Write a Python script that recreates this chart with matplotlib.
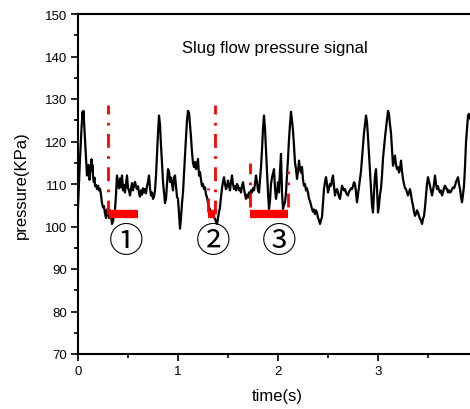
import matplotlib
matplotlib.use("Agg")
import matplotlib.pyplot as plt
import numpy as np
from matplotlib.ticker import MultipleLocator

# pressure trace (time in s, pressure in KPa)
# first part is irregularly spaced, the rest is on a 0.01 s grid
time_head = [
    0.000, 0.008, 0.020, 0.035, 0.045, 0.050, 0.055, 0.062, 0.070, 0.078,
    0.085, 0.090, 0.095, 0.100, 0.105, 0.110, 0.115, 0.120, 0.128, 0.135,
    0.140, 0.145, 0.150, 0.158, 0.165, 0.170, 0.180, 0.190, 0.200, 0.210,
    0.220, 0.230, 0.240, 0.250, 0.260, 0.270, 0.280, 0.290, 0.300, 0.310,
]
time_tail = np.arange(32, 394) / 100.0
time_s = np.concatenate([time_head, time_tail])

pressure = [
    104.5, 109.0, 116.0, 123.0, 127.0, 125.5, 127.2, 124.0, 120.0, 117.0,
    114.0, 112.0, 113.5, 112.5, 114.5, 112.0, 111.0, 113.0, 114.0, 115.8,
    113.0, 114.5, 112.0, 110.5, 111.5, 109.5, 109.8, 108.8, 109.6, 108.5,
    108.9, 107.5, 105.5, 104.5, 104.8, 103.0, 102.0, 104.0, 103.5, 102.0,
    # 0.32 s onwards
    103.8, 102.5, 100.6, 101.2, 103.0, 104.0, 107.5, 112.0, 110.0, 109.0,
    111.3, 109.2, 112.0, 108.5, 109.8, 108.0, 110.0, 112.0, 109.0, 108.5,
    107.3, 109.0, 110.2, 108.5, 109.6, 110.5, 109.4, 108.8, 109.5, 107.8,
    107.0, 108.5, 107.5, 109.0, 108.0, 108.8, 107.8, 109.5, 110.5, 112.0,
    109.0, 107.3, 108.0, 106.5, 107.0, 108.5, 112.0, 117.0, 122.0, 126.1,
    124.0, 119.0, 115.0, 110.5, 108.0, 105.5, 106.5, 110.0, 113.5, 113.0,
    110.5, 111.5, 110.0, 108.5, 111.5, 112.0, 109.5, 107.0, 106.5, 103.0,
    99.5, 102.0, 105.5, 108.0, 112.5, 117.0, 121.0, 125.0, 127.2, 126.8,
    124.0, 121.0, 117.5, 115.0, 114.0, 115.2, 113.5, 114.5, 115.9, 112.0,
    112.8, 111.0, 109.5, 110.0, 108.8, 109.2, 107.5, 106.9, 105.5, 104.5,
    104.0, 103.2, 102.9, 102.5, 102.2, 101.8, 101.0, 100.6, 102.0, 103.4,
    104.5, 107.0, 109.0, 110.5, 111.6, 110.0, 108.8, 109.5, 110.8, 109.5,
    108.5, 110.5, 112.0, 110.0, 108.8, 109.5, 108.5, 110.0, 109.6, 108.5,
    109.0, 108.0, 109.5, 110.4, 109.0, 107.5, 106.5, 107.5, 106.8, 108.0,
    107.3, 108.5, 108.0, 109.0, 108.5, 110.0, 112.0, 110.5, 108.5, 108.0,
    111.0, 114.0, 118.0, 123.0, 126.1, 123.0, 118.0, 113.0, 108.0, 104.1,
    106.0, 110.0, 111.5, 112.5, 113.5, 109.0, 106.5, 108.0, 110.4, 108.0,
    113.0, 117.1, 108.0, 104.1, 105.0, 105.7, 108.0, 112.0, 116.0, 120.5,
    124.0, 127.0, 125.0, 122.5, 119.0, 115.0, 113.5, 111.2, 113.0, 115.5,
    113.5, 112.7, 114.0, 111.0, 109.6, 110.0, 108.5, 109.0, 108.0, 106.5,
    106.0, 105.0, 104.1, 103.5, 104.0, 102.9, 103.8, 103.3, 102.0, 101.5,
    100.6, 101.5, 102.2, 105.5, 108.8, 110.5, 111.6, 110.0, 108.0, 109.0,
    110.0, 109.6, 111.0, 112.0, 109.5, 107.3, 108.5, 108.8, 108.0, 107.0,
    106.5, 108.0, 109.6, 109.0, 108.5, 108.8, 108.0, 107.5, 107.3, 108.2,
    108.5, 109.0, 108.8, 109.5, 110.4, 110.0, 108.0, 105.7, 107.5, 109.5,
    111.2, 113.0, 116.0, 119.0, 122.0, 124.0, 126.1, 124.5, 121.0, 117.0,
    113.0, 109.0, 105.0, 103.3, 108.0, 112.0, 113.5, 109.0, 103.3, 105.0,
    107.5, 109.0, 112.0, 116.0, 118.5, 121.0, 123.0, 125.0, 127.2, 126.5,
    124.0, 122.0, 118.0, 114.3, 115.5, 116.7, 114.5, 113.5, 114.0, 112.7,
    113.5, 115.5, 113.0, 111.2, 110.0, 109.0, 108.8, 108.0, 107.3, 108.0,
    108.8, 107.5, 106.0, 104.9, 103.5, 102.5, 103.0, 103.8, 103.3, 102.5,
    101.8, 101.5, 100.6, 101.8, 102.5, 104.5, 107.3, 110.0, 111.6, 110.5,
    109.6, 108.5, 107.3, 108.5, 110.0, 112.0, 110.0, 108.8, 109.5, 108.5,
    108.0, 108.5, 107.3, 108.0, 109.0, 109.6, 109.0, 108.8, 108.0, 108.5,
    108.0, 108.2, 108.8, 109.2, 109.0, 109.6, 110.5, 111.0, 111.6, 110.0,
    108.8, 107.0, 105.7, 107.5, 109.6, 114.0, 119.8, 123.0, 126.1, 126.5,
    125.5, 125.0,
]

# red markers: dash-dot lines (x, bottom, top) and bars (start, end, level)
vline_x = [0.30, 1.37, 1.30, 1.72, 2.10]
vline_lo = [102.9, 102.9, 103.5, 104.5, 104.5]
vline_hi = [128.5, 128.5, 109.0, 115.0, 113.0]
bar_start = [0.31, 1.30, 1.72]
bar_end = [0.60, 1.37, 2.10]
bar_level = [102.9, 102.9, 102.9]
label_x = [0.48, 1.35, 2.01]
label_text = ["\u2460", "\u2461", "\u2462"]

plt.rcParams["font.family"] = ["Liberation Sans", "DejaVu Sans"]

fig = plt.figure(figsize=(4.7, 4.1), dpi=100)
ax = fig.add_axes([78 / 470, 55 / 410, 398 / 470, 340 / 410])

ax.plot(time_s, pressure, color="black", lw=1.6, zorder=2)

for x, lo, hi in zip(vline_x, vline_lo, vline_hi):
    ax.plot([x, x], [lo, hi], color="red", lw=2, linestyle=(0, (5, 3, 1, 3)), zorder=3)
for s, e, lv in zip(bar_start, bar_end, bar_level):
    ax.plot([s, e], [lv, lv], color="red", lw=6, solid_capstyle="butt", zorder=4)
for x, txt in zip(label_x, label_text):
    ax.text(x, 96.4, txt, ha="center", va="center", fontsize=25,
            family=["Noto Sans CJK SC", "DejaVu Sans"])

ax.text(1.97, 142.2, "Slug flow pressure signal", ha="center", va="center", fontsize=12)

ax.set_xlim(0, 3.98)
ax.set_ylim(70, 150)
ax.xaxis.set_major_locator(MultipleLocator(1))
ax.xaxis.set_minor_locator(MultipleLocator(0.5))
ax.yaxis.set_major_locator(MultipleLocator(10))
ax.yaxis.set_minor_locator(MultipleLocator(5))
ax.tick_params(which="major", direction="out", length=5, width=1.2, labelsize=9.5, pad=3)
ax.tick_params(which="minor", direction="out", length=3, width=1.2)
ax.spines["right"].set_visible(False)
for sp in ["left", "bottom", "top"]:
    ax.spines[sp].set_linewidth(1.5)

ax.set_xlabel("time(s)", fontsize=12, labelpad=8)
ax.set_ylabel("pressure(KPa)", fontsize=12, labelpad=11)

fig.savefig("out.png", dpi=100)
